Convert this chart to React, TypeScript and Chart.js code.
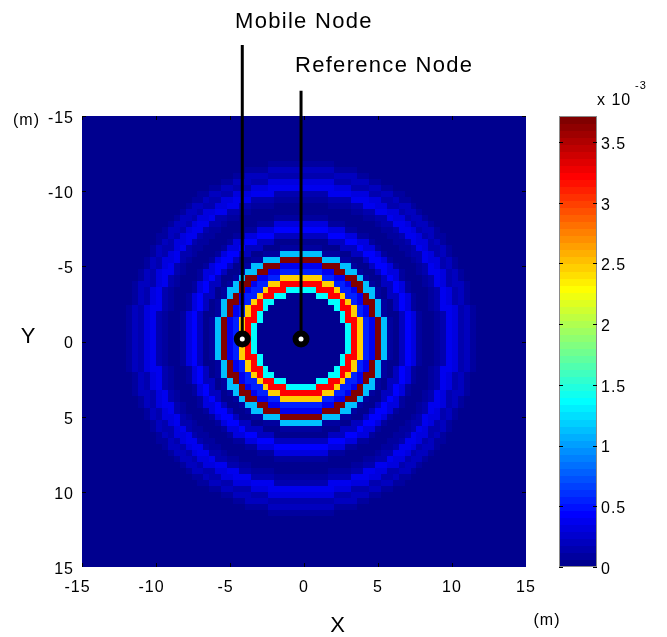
import React, { useEffect, useRef } from "react";
import { Chart, registerables } from "chart.js";

Chart.register(...registerables);

// ---------- data ----------
const X_TICKS = [-15, -10, -5, 0, 5, 10, 15];
const Y_TICKS = [-15, -10, -5, 0, 5, 10, 15];
const CB_TICKS = [0, 0.5, 1, 1.5, 2, 2.5, 3, 3.5];
const CB_MAX = 3.713; // colour scale top, x 10^-3

// grid of 0.4 m cells, centres -15 ... 15
const CELL_SIZE = 0.4;
const GRID_CENTERS = Array.from({ length: 76 }, (_, k) => -15 + k * CELL_SIZE);
const PATTERN_CENTER = [-0.2, -0.2];

// value (x 10^-3) by ring number (distance from pattern centre in cells)
const RING_VALUES = [
  0, 0, 0, 0, 0, 0, 0, 0,
  1.35, 3.2, 2.45, 0.55, 0.38, 3.713, 1.15,
  0.07, 0.03, 0.21, 0.44, 0.33,
  0.07, 0.03, 0.03, 0.07, 0.15,
  0.4, 0.33, 0.13, 0.21, 0.08,
];
const OUTER_VALUE = 0.02;

// nodes
const NODE_LABELS = ["Mobile Node", "Reference Node"];
const NODE_X = [-4.17, -0.2];
const NODE_Y = [-0.17, -0.17];
const LEADER_TOP_Y = [-19.72, -16.68];
const LABEL_X = [-4.66, -0.61];
const LABEL_Y = [-20.85, -17.9];

// ---------- helpers ----------
const FONT = "'Liberation Sans', Arial, Helvetica, sans-serif";

function jetRGB(i: number): [number, number, number] {
  const u = (k: number) => (k < 1 || k > 47 ? 0 : k <= 16 ? k / 16 : k <= 31 ? 1 : (48 - k) / 16);
  const idx = i + 1;
  return [u(idx - 24), u(idx - 8), u(idx + 8)];
}
function jetCss(i: number): string {
  const [r, g, b] = jetRGB(i);
  return `rgb(${Math.round(r * 255)},${Math.round(g * 255)},${Math.round(b * 255)})`;
}
function colorIndex(v: number): number {
  return Math.max(0, Math.min(63, Math.floor((v / CB_MAX) * 64)));
}
function cellValue(cx: number, cy: number): number {
  const di = Math.round((cx - PATTERN_CENTER[0]) / CELL_SIZE);
  const dj = Math.round((cy - PATTERN_CENTER[1]) / CELL_SIZE);
  const r = Math.round(Math.sqrt(di * di + dj * dj));
  return r < RING_VALUES.length ? RING_VALUES[r] : OUTER_VALUE;
}

const heatmapPlugin = {
  id: "heatmap",
  beforeDraw(chart: any) {
    chart.ctx.letterSpacing = "1px";
  },
  beforeDatasetsDraw(chart: any) {
    const { ctx, chartArea: a, scales } = chart;
    const x = scales.x;
    const y = scales.y;
    ctx.save();
    ctx.beginPath();
    ctx.rect(a.left, a.top, a.right - a.left, a.bottom - a.top);
    ctx.clip();
    for (let i = 0; i < GRID_CENTERS.length; i++) {
      const cx = GRID_CENTERS[i];
      const x0 = Math.round(x.getPixelForValue(cx - CELL_SIZE / 2));
      const x1 = Math.round(x.getPixelForValue(cx + CELL_SIZE / 2));
      for (let j = 0; j < GRID_CENTERS.length; j++) {
        const cy = GRID_CENTERS[j];
        const y0 = Math.round(y.getPixelForValue(cy - CELL_SIZE / 2));
        const y1 = Math.round(y.getPixelForValue(cy + CELL_SIZE / 2));
        ctx.fillStyle = jetCss(colorIndex(cellValue(cx, cy)));
        ctx.fillRect(Math.min(x0, x1), Math.min(y0, y1), Math.abs(x1 - x0), Math.abs(y1 - y0));
      }
    }
    // inward tick marks
    ctx.strokeStyle = "#000";
    ctx.lineWidth = 1;
    ctx.beginPath();
    X_TICKS.forEach((t) => {
      const p = Math.round(x.getPixelForValue(t)) + 0.5;
      ctx.moveTo(p, a.bottom);
      ctx.lineTo(p, a.bottom - 4);
      ctx.moveTo(p, a.top);
      ctx.lineTo(p, a.top + 4);
    });
    Y_TICKS.forEach((t) => {
      const p = Math.round(y.getPixelForValue(t)) + 0.5;
      ctx.moveTo(a.left, p);
      ctx.lineTo(a.left + 4, p);
      ctx.moveTo(a.right, p);
      ctx.lineTo(a.right - 4, p);
    });
    ctx.stroke();
    ctx.restore();
  },
  afterDraw(chart: any) {
    const { ctx, scales } = chart;
    const cb = scales.cb;
    const x = scales.x;
    const y = scales.y;
    ctx.save();
    // colour bar
    const L = cb.left + 33;
    const R = cb.left + 71;
    for (let i = 0; i < 64; i++) {
      const yTop = cb.getPixelForValue(((i + 1) / 64) * CB_MAX);
      const yBot = cb.getPixelForValue((i / 64) * CB_MAX);
      ctx.fillStyle = jetCss(i);
      ctx.fillRect(L, Math.floor(yTop), R - L, Math.ceil(yBot) - Math.floor(yTop));
    }
    ctx.strokeStyle = "#8a8a8a";
    ctx.lineWidth = 1;
    ctx.strokeRect(L + 0.5, cb.top + 0.5, R - L - 1, cb.bottom - cb.top - 1);
    ctx.strokeStyle = "#000";
    ctx.beginPath();
    CB_TICKS.forEach((t) => {
      const p = Math.round(cb.getPixelForValue(t)) + 0.5;
      ctx.moveTo(L, p);
      ctx.lineTo(L + 4, p);
      ctx.moveTo(R, p);
      ctx.lineTo(R - 4, p);
    });
    ctx.stroke();

    ctx.fillStyle = "#000";
    ctx.letterSpacing = "1px";
    ctx.textBaseline = "alphabetic";
    ctx.textAlign = "left";
    ctx.font = `16px ${FONT}`;
    ctx.fillText("x 10", cb.left + 71, cb.top - 11);
    ctx.font = `11px ${FONT}`;
    ctx.fillText("-3", cb.left + 109, cb.top - 27.5);

    // unit labels
    ctx.font = `16px ${FONT}`;
    ctx.fillText("(m)", 13, y.getPixelForValue(-15) + 9);
    ctx.fillText("(m)", 533.5, 625);

    // axis titles
    ctx.font = `22px ${FONT}`;
    ctx.textAlign = "center";
    ctx.fillText("Y", 28.5, 343);
    ctx.fillText("X", x.getPixelForValue(2.3), 632);

    // node labels
    ctx.textAlign = "left";
    ctx.font = `22px ${FONT}`;
    ctx.letterSpacing = "1.3px";
    NODE_LABELS.forEach((lab, i) => {
      ctx.fillText(lab, x.getPixelForValue(LABEL_X[i]), y.getPixelForValue(LABEL_Y[i]));
    });
    ctx.restore();
  },
};

const noPad = (s: any) => {
  s.paddingTop = 0;
  s.paddingBottom = 0;
  s.paddingLeft = 0;
  s.paddingRight = 0;
};

export default function App() {
  const ref = useRef<HTMLCanvasElement>(null);
  useEffect(() => {
    document.body.style.margin = "0";
    const canvas = ref.current!;
    const tickFont = { family: FONT, size: 16 };
    const chart = new Chart(canvas, {
      type: "scatter",
      data: {
        datasets: [
          {
            type: "scatter",
            data: NODE_X.map((vx, i) => ({ x: vx, y: NODE_Y[i] })),
            pointRadius: 5.5,
            pointHoverRadius: 5.5,
            pointBorderWidth: 6,
            pointBackgroundColor: "#ffffff",
            pointBorderColor: "#000000",
            clip: false,
          } as any,
          ...NODE_X.map(
            (vx, i) =>
              ({
                type: "line",
                data: [
                  { x: vx, y: NODE_Y[i] },
                  { x: vx, y: LEADER_TOP_Y[i] },
                ],
                borderColor: "#000000",
                borderWidth: 3,
                pointRadius: 0,
                showLine: true,
                fill: false,
                clip: false,
              } as any)
          ),
        ],
      },
      options: {
        animation: false,
        responsive: false,
        devicePixelRatio: 1,
        events: [],
        layout: { padding: { left: 0, top: 116, right: 31, bottom: 0 } },
        plugins: { legend: { display: false }, tooltip: { enabled: false } },
        scales: {
          x: {
            type: "linear",
            position: "bottom",
            min: -15,
            max: 15,
            grid: { display: false, drawTicks: false },
            border: { display: false },
            ticks: {
              font: tickFont,
              color: "#000",
              padding: 11,
              autoSkip: false,
              maxRotation: 0,
              callback: (v: any) => (Number(v) < 0 ? `${v}\u2002` : `${v}`),
            },
            afterBuildTicks: (s: any) => {
              s.ticks = X_TICKS.map((v) => ({ value: v }));
            },
            afterFit: (s: any) => {
              s.height = 70;
              noPad(s);
            },
          },
          y: {
            type: "linear",
            position: "left",
            reverse: true,
            min: -15,
            max: 15,
            grid: { display: false, drawTicks: false },
            border: { display: false },
            ticks: { font: tickFont, color: "#000", padding: 8, labelOffset: 2.5, callback: (v: any) => `${v}` },
            afterBuildTicks: (s: any) => {
              s.ticks = Y_TICKS.map((v) => ({ value: v }));
            },
            afterFit: (s: any) => {
              s.width = 82;
              noPad(s);
            },
          },
          cb: {
            type: "linear",
            position: "right",
            min: 0,
            max: CB_MAX,
            grid: { display: false, drawTicks: false },
            border: { display: false },
            ticks: { font: tickFont, color: "#000", padding: 75, labelOffset: 2.5, callback: (v: any) => `${v}` },
            afterBuildTicks: (s: any) => {
              s.ticks = CB_TICKS.map((v) => ({ value: v }));
            },
            afterFit: (s: any) => {
              s.width = 110;
              noPad(s);
            },
          },
        },
      } as any,
      plugins: [heatmapPlugin],
    });
    return () => chart.destroy();
  }, []);
  return (
    <div style={{ width: 667, height: 637 }}>
      <canvas ref={ref} width={667} height={637} style={{ display: "block" }} />
    </div>
  );
}
